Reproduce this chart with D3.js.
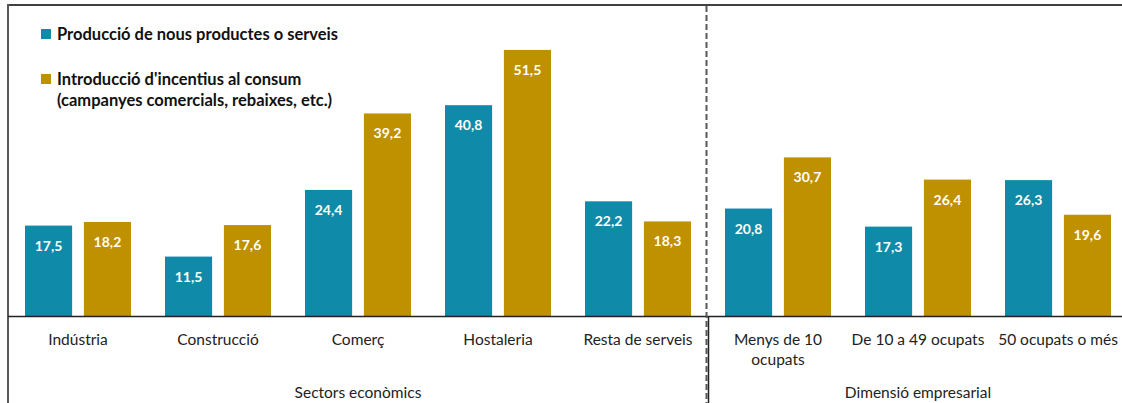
<!DOCTYPE html>
<html>
<head>
<meta charset="utf-8">
<script src="https://cdnjs.cloudflare.com/ajax/libs/d3/7.8.5/d3.min.js"></script>
<style>
  body { margin: 0; background: #fff; }
  svg { display: block; font-family: Lato, "Open Sans", sans-serif; }
</style>
</head>
<body>
<div class="chart"></div>
<script>
// data
var categories = ["Indústria", "Construcció", "Comerç", "Hostaleria", "Resta de serveis",
                  "Menys de 10|ocupats", "De 10 a 49 ocupats", "50 ocupats o més"];
var products = [17.5, 11.5, 24.4, 40.8, 22.2, 20.8, 17.3, 26.3];
var incentives = [18.2, 17.6, 39.2, 51.5, 18.3, 30.7, 26.4, 19.6];
var seriesNames = ["Producció de nous productes o serveis",
                   "Introducció d'incentius al consum|(campanyes comercials, rebaixes, etc.)"];
var groups = [
    {name: "Sectors econòmics", first: 0, last: 4},
    {name: "Dimensió empresarial", first: 5, last: 7}
];

var colors = ["#108aa9", "#bf9000"];
var svgWidth = 1122, svgHeight = 403;

var svg = d3.select(".chart")
    .append("svg")
    .attr("width", svgWidth)
    .attr("height", svgHeight);

// scales
var x = d3.scaleBand()
    .domain(categories)
    .range([8, 1128]);

var xInner = d3.scaleBand()
    .domain([0, 1])
    .range([17, x.bandwidth() - 17])
    .paddingInner(0.2);

var y = d3.scaleLinear()
    .domain([0, 60])
    .range([316, 6]);

var data = categories.map(function(c, i) {
    return {cat: c, vals: [products[i], incentives[i]]};
});

// bars
var catGroup = svg.selectAll(".cat")
    .data(data)
    .enter()
    .append("g")
    .attr("class", "cat")
    .attr("transform", d => `translate(${x(d.cat)},0)`);

catGroup.selectAll("rect")
    .data(d => d.vals.map((v, k) => ({k: k, v: v})))
    .enter()
    .append("rect")
    .attr("x", d => xInner(d.k))
    .attr("width", xInner.bandwidth())
    .attr("y", d => y(d.v))
    .attr("height", d => y(0) - y(d.v))
    .attr("fill", d => colors[d.k]);

// value labels
catGroup.selectAll("text.val")
    .data(d => d.vals.map((v, k) => ({k: k, v: v})))
    .enter()
    .append("text")
    .attr("class", "val")
    .attr("x", d => xInner(d.k) + xInner.bandwidth() / 2)
    .attr("y", d => y(d.v) + 25)
    .attr("text-anchor", "middle")
    .attr("fill", "#fff")
    .attr("font-weight", "bold")
    .attr("font-size", 14)
    .text(d => d3.format(".1f")(d.v).replace(".", ","));

// category labels (| means line break)
catGroup.append("text")
    .attr("x", x.bandwidth() / 2)
    .attr("y", 345)
    .attr("text-anchor", "middle")
    .attr("font-size", 15.5)
    .attr("fill", "#222")
    .selectAll("tspan")
    .data(d => d.cat.split("|"))
    .enter()
    .append("tspan")
    .attr("x", x.bandwidth() / 2)
    .attr("dy", (d, i) => i === 0 ? 0 : 20)
    .text(d => d);

// group labels
svg.selectAll(".grp")
    .data(groups)
    .enter()
    .append("text")
    .attr("class", "grp")
    .attr("x", d => (x(categories[d.first]) + x(categories[d.last]) + x.bandwidth()) / 2)
    .attr("y", 398)
    .attr("text-anchor", "middle")
    .attr("font-size", 15.5)
    .attr("fill", "#222")
    .text(d => d.name);

// frame lines
svg.append("line")
    .attr("x1", 8).attr("x2", svgWidth)
    .attr("y1", 5).attr("y2", 5)
    .attr("stroke", "#404040").attr("stroke-width", 2);

svg.append("line")
    .attr("x1", 8).attr("x2", 8)
    .attr("y1", 4).attr("y2", svgHeight)
    .attr("stroke", "#595959").attr("stroke-width", 2);

svg.append("line")
    .attr("x1", 8).attr("x2", svgWidth)
    .attr("y1", y(0) + 0.5).attr("y2", y(0) + 0.5)
    .attr("stroke", "#222").attr("stroke-width", 1.5);

var splitX = x(categories[5]);
svg.append("line")
    .attr("x1", splitX - 1.5).attr("x2", splitX - 1.5)
    .attr("y1", 6).attr("y2", svgHeight)
    .attr("stroke", "#595959").attr("stroke-width", 2)
    .attr("stroke-dasharray", "6,3");

svg.append("line")
    .attr("x1", splitX + 0.5).attr("x2", splitX + 0.5)
    .attr("y1", y(0)).attr("y2", svgHeight)
    .attr("stroke", "#222").attr("stroke-width", 1.5);

// legend
var legend = svg.selectAll(".legend")
    .data(seriesNames)
    .enter()
    .append("g")
    .attr("class", "legend")
    .attr("transform", (d, i) => `translate(41,${29 + i * 45})`);

legend.append("rect")
    .attr("width", 10)
    .attr("height", 10)
    .attr("fill", (d, i) => colors[i]);

legend.append("text")
    .attr("x", 16)
    .attr("y", 11)
    .attr("font-size", 16.5)
    .attr("font-weight", "bold")
    .attr("fill", "#111")
    .selectAll("tspan")
    .data(d => d.split("|"))
    .enter()
    .append("tspan")
    .attr("x", 16)
    .attr("dy", (d, i) => i === 0 ? 0 : 21)
    .text(d => d);
</script>
</body>
</html>
